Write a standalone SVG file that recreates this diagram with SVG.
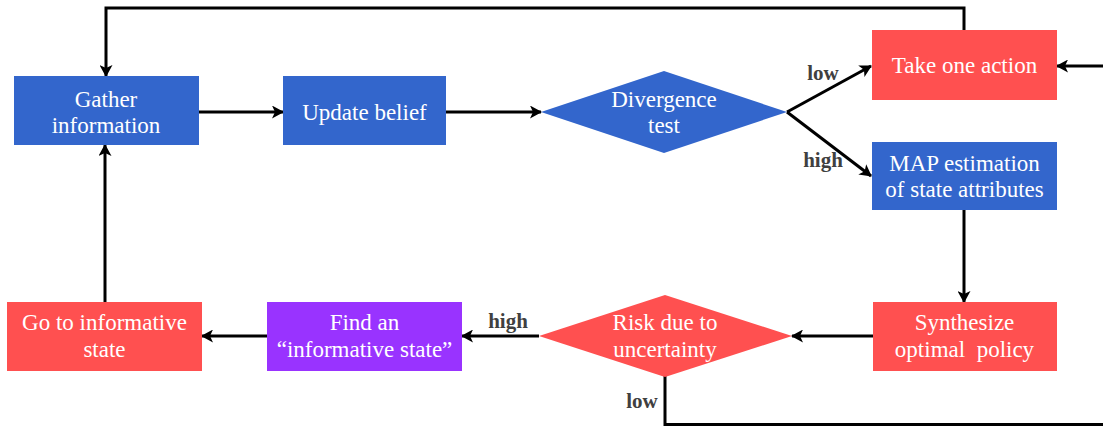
<svg xmlns="http://www.w3.org/2000/svg" width="1103" height="426" viewBox="0 0 1103 426">
<style>
.blue{fill:#3366CC}
.red{fill:#FF5050}
.purple{fill:#9933FF}
.t{font-family:"Liberation Serif","Times New Roman",serif;font-size:23px;fill:#FFFFFF;text-anchor:middle}
.lbl{font-family:"Liberation Serif","Times New Roman",serif;font-size:21px;font-weight:bold;fill:#404040;text-anchor:middle}
.c{fill:none;stroke:#000000;stroke-width:3;marker-end:url(#ah)}
.cn{fill:none;stroke:#000000;stroke-width:3}
</style>
<defs>
<marker id="ah" markerUnits="userSpaceOnUse" markerWidth="12" markerHeight="13" refX="11" refY="6.5" orient="auto">
<path d="M0,0 L12,6.5 L0,13 L3,6.5 z" fill="#000000"/>
</marker>
</defs>
<rect width="1103" height="426" fill="#FFFFFF"/>
<g id="connectors">
<path class="c" d="M964,31 V8 H106 V76"/>
<path class="c" d="M199,112 H283"/>
<path class="c" d="M446,112 H541"/>
<path class="c" d="M787,112 L871,66"/>
<path class="c" d="M787,112 L871,176"/>
<path class="c" d="M1103,66 H1057"/>
<path class="c" d="M964,210 V302"/>
<path class="c" d="M873,336 H792"/>
<path class="c" d="M539,336 H462"/>
<path class="c" d="M267,336 H202"/>
<path class="c" d="M105,302 V145"/>
<path class="cn" d="M665,376 V424.5 H1103"/>
<text class="lbl" x="823" y="80">low</text>
<text class="lbl" x="823" y="167">high</text>
<text class="lbl" x="508" y="328">high</text>
<text class="lbl" x="642" y="408">low</text>
</g>
<g id="gather">
<rect class="blue" x="14" y="76" width="185" height="69"/>
<text class="t" x="106" y="107">Gather</text>
<text class="t" x="106" y="133">information</text>
</g>
<g id="update">
<rect class="blue" x="283" y="76" width="163" height="69"/>
<text class="t" x="364.5" y="120">Update belief</text>
</g>
<g id="divergence">
<polygon class="blue" points="541,112 664,71 787,112 664,153"/>
<text class="t" x="664" y="107">Divergence</text>
<text class="t" x="664" y="133">test</text>
</g>
<g id="take-action">
<rect class="red" x="872" y="30" width="185" height="70"/>
<text class="t" x="964.5" y="73">Take one action</text>
</g>
<g id="map">
<rect class="blue" x="872" y="142" width="185" height="68"/>
<text class="t" x="964.5" y="171">MAP estimation</text>
<text class="t" x="964.5" y="197">of state attributes</text>
</g>
<g id="synthesize">
<rect class="red" x="873" y="302" width="184" height="69"/>
<text class="t" x="964.5" y="330">Synthesize</text>
<text class="t" x="964.5" y="357" xml:space="preserve">optimal  policy</text>
</g>
<g id="risk">
<polygon class="red" points="539,336 665,295 792,336 665,377"/>
<text class="t" x="665" y="330">Risk due to</text>
<text class="t" x="665" y="357">uncertainty</text>
</g>
<g id="find">
<rect class="purple" x="267" y="302" width="195" height="69"/>
<text class="t" x="364.5" y="330">Find an</text>
<text class="t" x="364.5" y="357">“informative state”</text>
</g>
<g id="goto">
<rect class="red" x="7" y="302" width="195" height="69"/>
<text class="t" x="104.5" y="330">Go to informative</text>
<text class="t" x="104.5" y="357">state</text>
</g>
</svg>
